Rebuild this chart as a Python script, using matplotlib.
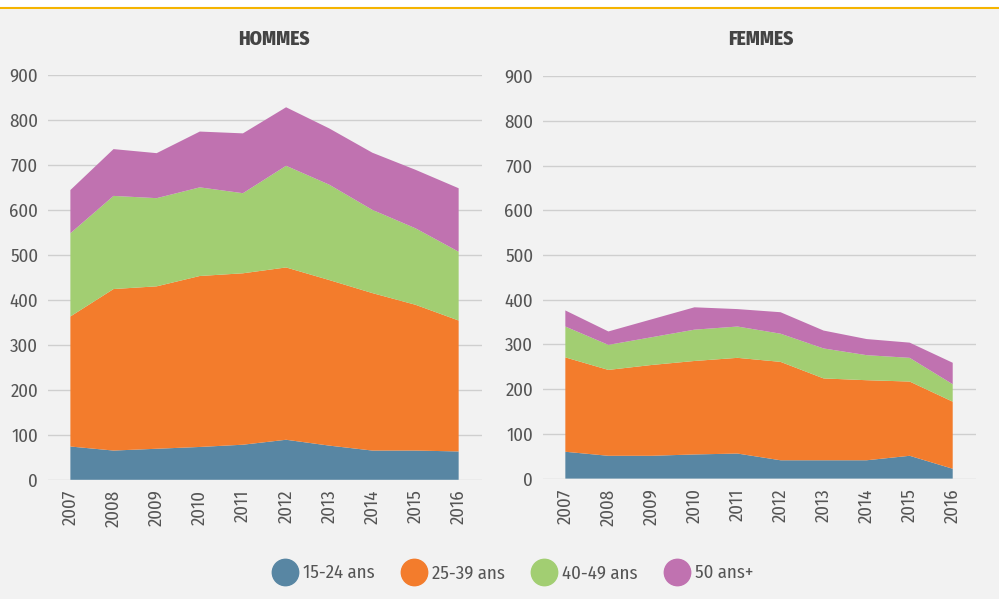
import matplotlib
matplotlib.use("Agg")
import matplotlib.pyplot as plt
from matplotlib.lines import Line2D

years = [2007, 2008, 2009, 2010, 2011, 2012, 2013, 2014, 2015, 2016]
labels = ["15-24 ans", "25-39 ans", "40-49 ans", "50 ans+"]
colors = ["#5886a3", "#f37c2c", "#a2ce72", "#c072b0"]

# hommes, values per age band
h_15_24 = [74, 65, 69, 73, 78, 89, 76, 65, 65, 63]
h_25_39 = [289, 359, 361, 380, 381, 383, 368, 350, 324, 291]
h_40_49 = [185, 207, 196, 197, 178, 226, 212, 185, 170, 153]
h_50 = [96, 104, 100, 124, 133, 130, 125, 127, 130, 141]

# femmes
f_15_24 = [60, 51, 51, 54, 56, 41, 41, 41, 51, 22]
f_25_39 = [211, 192, 203, 209, 214, 220, 183, 179, 166, 150]
f_40_49 = [69, 56, 62, 70, 70, 63, 67, 56, 53, 39]
f_50 = [36, 30, 40, 50, 39, 48, 40, 36, 34, 48]

plt.rcParams['font.family'] = ['Fira Sans Condensed', 'DejaVu Sans']

fig = plt.figure(figsize=(9.99, 5.99), dpi=100, facecolor="#f2f2f2")

# yellow rule at the top
fig.add_artist(Line2D([0, 1], [0.986, 0.986], color="#f5b400", lw=1.5))
fig.patches.append(plt.Rectangle((0, 0.987), 1, 0.02, transform=fig.transFigure,
                                 color="white", zorder=0))

panels = [
    ("HOMMES", [h_15_24, h_25_39, h_40_49, h_50], [0.048, 0.199, 0.434, 0.676], 0.274),
    ("FEMMES", [f_15_24, f_25_39, f_40_49, f_50], [0.5435, 0.201, 0.433, 0.672], 0.762),
]

for title, series, pos, tx in panels:
    ax = fig.add_axes(pos)
    ax.set_facecolor("#f2f2f2")
    ax.stackplot(years, *series, colors=colors, linewidth=0, zorder=2)
    ax.set_ylim(0, 900)
    ax.set_xlim(2006.48, 2016.53)
    ax.set_yticks(range(0, 901, 100))
    ax.set_xticks(years)
    ax.set_xticklabels([str(y) for y in years], rotation=90)
    ax.grid(axis="y", color="#cfcfcf", lw=1, zorder=0)
    ax.set_axisbelow(True)
    for s in ax.spines.values():
        s.set_visible(False)
    ax.tick_params(length=0, labelsize=13.5, colors="#555555", pad=7)
    ax.tick_params(axis="y", pad=7)
    fig.text(tx, 0.935, title, ha="center", va="center", fontsize=14,
             fontweight="heavy", color="#444444")

# legend
handles = [Line2D([], [], marker="o", ls="", markersize=19, color=c) for c in colors]
fig.legend(handles, labels, loc="center", bbox_to_anchor=(0.513, 0.043), ncol=4,
           frameon=False, fontsize=13.5, labelcolor="#555555", handlelength=1.4,
           handletextpad=0.25, columnspacing=1.4)

fig.savefig("out.png", dpi=100, facecolor=fig.get_facecolor())
